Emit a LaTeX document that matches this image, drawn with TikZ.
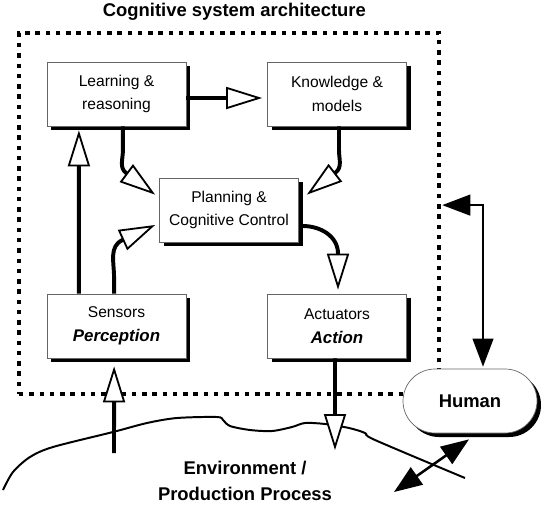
\documentclass[tikz,border=0pt]{standalone}
\usepackage{fontspec}
\setmainfont{Liberation Sans}
\usetikzlibrary{arrows.meta,calc,shadows}

\tikzset{
  blk/.style={draw=black!60, line width=0.5pt, fill=white, align=center,
    minimum width=3.475cm, minimum height=1.6cm,
    font=\fontsize{11.1}{17}\selectfont,
    drop shadow={shadow xshift=0.1cm, shadow yshift=-0.1cm, opacity=1, fill=black}},
  flow/.style={line width=2.8pt,
    -{Triangle[length=0.9cm,width=0.55cm,fill=white,line width=1.3pt]}},
  link/.style={line width=1.2pt,
    {Triangle[length=0.7cm,width=0.52cm]}-{Triangle[length=0.7cm,width=0.52cm]}},
  heading/.style={font=\fontsize{13.1}{18.4}\selectfont\bfseries, align=center},
}
\newcommand{\bfit}[1]{{\fontsize{12}{17.7}\selectfont\bfseries\itshape #1}}

\begin{document}
\begin{tikzpicture}
      \useasboundingbox (0,0) rectangle (13.6,12.6);

      % Title above the system
      \node[heading] (title) at (5.86,12.3) {Cognitive system architecture};

      % Dotted frame: the cognitive system
      \node[draw, line width=3.2pt, dash pattern=on 3.2pt off 4.1pt, inner sep=0pt,
        minimum width=10.5cm, minimum height=9.025cm] (sys) at (5.725,7.2625) {};

      % Environment / production process (rough outline)
      \draw[line width=1.4pt] plot[smooth, tension=0.5] coordinates {
        (0.075,0.35) (0.325,0.8) (0.75,1.175) (1.325,1.425) (2.825,1.8)
        (3.675,2.025) (4.425,2.15) (5.425,2.175) (5.575,2.1) (5.75,1.95)
        (6.25,1.85) (6.8,1.825) (7.3,1.925) (7.625,2.025) (8.125,2.0)
        (8.725,1.9) (9.125,1.775) (9.375,1.6) (11.625,0.65)};
      \node[heading] (env) at (6.125,0.575) {Environment /\\Production Process};
      \coordinate (e1) at (2.85,1.275);
      \coordinate (e2) at (8.375,1.35);
      \coordinate (e3) at (9.85,0.3);

      % Blocks
      \node[blk] (learn) at (2.9125,10.25) {Learning \&\\reasoning};
      \node[blk] (know) at (8.425,10.25) {Knowledge \&\\models};
      \node[blk] (plan) at (5.725,7.35) {Planning \&\\Cognitive Control};
      \node[blk] (sense) at (2.9125,4.45) {Sensors\\\bfit{Perception}};
      \node[blk] (act) at (8.425,4.45) {Actuators\\\bfit{Action}};
      \node[blk, rounded corners=0.8cm, minimum width=3.35cm,
        font=\fontsize{13.1}{16}\selectfont\bfseries] (human) at (11.75,2.575) {Human};

      % Tips of the bent arrows into the planning block
      \coordinate (lp) at ([shift={(-0.1,-0.425)}]plan.north west);
      \coordinate (kp) at ([shift={(0.2,-0.425)}]plan.north east);
      \coordinate (sp) at ([shift={(-0.1,-0.375)}]plan.west);
      \coordinate (pa) at ([shift={(0.025,0.1)}]act.north);

      % Internal flow
      \draw[flow] ([yshift=-0.1cm]learn.east) -- ([shift={(-0.125,-0.1)}]know.west);
      \draw[flow] ([xshift=-0.94cm]sense.north) -- ([shift={(-0.94,-0.1)}]learn.south);
      \draw[flow] ([xshift=0.16cm]learn.south) -- ++(0,-0.6)
        to[out=-90,in=143.3] ($(lp)+(143.3:0.9)$) -- (lp);
      \draw[flow] ([xshift=0.05cm]know.south) -- ++(0,-0.6)
        to[out=-90,in=37.5] ($(kp)+(37.5:0.9)$) -- (kp);
      \draw[flow] ([xshift=-0.06cm]sense.north) -- ++(0,0.4)
        to[out=90,in=204.7] ($(sp)+(204.7:0.9)$) -- (sp);
      \draw[flow] ([shift={(0.1,-0.4)}]plan.east)
        to[out=0,in=90] ($(pa)+(0,0.9)$) -- (pa);

      % To and from the environment
      \draw[flow] (e1) -- ([shift={(-0.06,-0.2)}]sense.south);
      \draw[flow] ([xshift=-0.05cm]act.south) -- (e2);

      % Human in the loop
      \draw[link] ([shift={(0.325,0.05)}]human.north) |- ([shift={(0.025,0.21)}]sys.east);
      \draw[link, line width=1.8pt] (e3) -- ([shift={(-0.025,-0.15)}]human.south);
\end{tikzpicture}
\end{document}
